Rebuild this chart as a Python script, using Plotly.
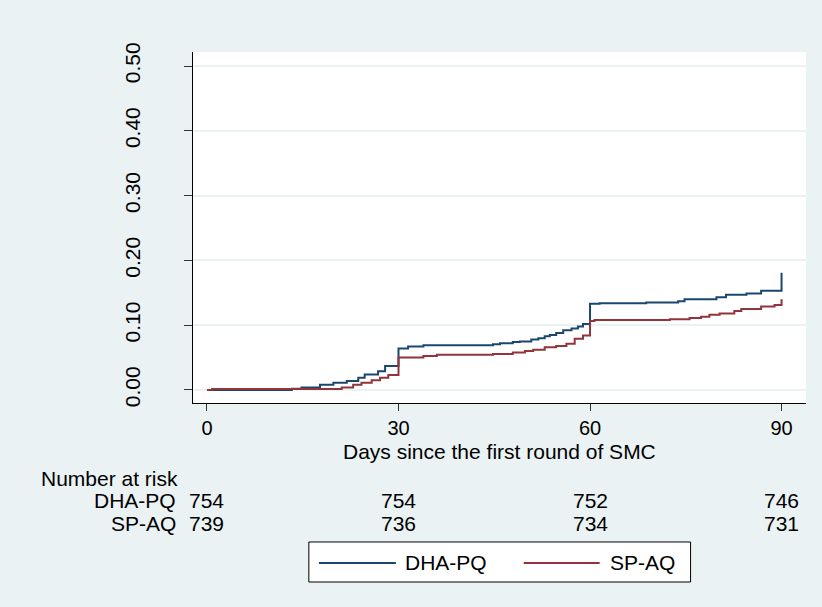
import plotly.graph_objects as go

# Kaplan-Meier style cumulative incidence (step functions)
dha_t = [0, 13.3, 14.8, 17.7, 19.8, 21.9, 23.7, 24.7, 26.8, 27.9, 30, 31.5, 33.9, 44.8, 45.9,
         47.9, 49, 50.8, 51.9, 52.9, 53.7, 54.7, 55.8, 57.1, 58.1, 58.9, 60, 61.5, 68.8, 73.8,
         74.8, 79.8, 81.3, 84.5, 86.8, 90]
dha_v = [0, 0.002, 0.004, 0.008, 0.011, 0.014, 0.019, 0.024, 0.029, 0.037, 0.064, 0.067, 0.069,
         0.0705, 0.072, 0.074, 0.075, 0.078, 0.080, 0.083, 0.085, 0.088, 0.092, 0.095, 0.098,
         0.102, 0.133, 0.134, 0.135, 0.137, 0.140, 0.143, 0.147, 0.149, 0.153, 0.181]

sp_t = [0, 0.8, 21.1, 22.9, 24.2, 25.8, 27.1, 28.4, 30, 33.9, 36, 44.8, 47.9, 49.8, 51.1, 52.9,
        54.7, 56.3, 57.6, 58.9, 60, 60.7, 72.5, 75.6, 77.4, 78.7, 80.3, 82.6, 83.7, 86.8, 88.9, 90]
sp_v = [0, 0.0015, 0.004, 0.008, 0.011, 0.015, 0.019, 0.023, 0.050, 0.0525, 0.0545, 0.0556,
        0.058, 0.060, 0.062, 0.066, 0.068, 0.0715, 0.079, 0.084, 0.1065, 0.108, 0.109, 0.111,
        0.113, 0.116, 0.118, 0.122, 0.125, 0.129, 0.131, 0.140]

risk_days = [0, 30, 60, 90]
risk_dha = [754, 754, 752, 746]
risk_sp = [739, 736, 734, 731]

y_ticks = [0, 0.1, 0.2, 0.3, 0.4, 0.5]
y_tick_text = ["0.00", "0.10", "0.20", "0.30", "0.40", "0.50"]
x_ticks = [0, 30, 60, 90]

NAVY = "#1A476F"
MAROON = "#90353B"
BG = "#EAF2F3"
FONT = "Liberation Sans, Arial, sans-serif"
FS = 21

fig = go.Figure()
fig.add_trace(go.Scatter(x=dha_t, y=dha_v, mode="lines", line=dict(shape="hv", color=NAVY, width=2),
                         name="DHA-PQ"))
fig.add_trace(go.Scatter(x=sp_t, y=sp_v, mode="lines", line=dict(shape="hv", color=MAROON, width=2),
                         name="SP-AQ"))

tf = dict(size=FS, color="black", family=FONT)
annotations = []
annotations.append(dict(text="Days since the first round of SMC", xref="paper", yref="paper",
                        x=0.5, y=-0.139, xanchor="center", yanchor="middle", showarrow=False, font=tf))
annotations.append(dict(text="Number at risk", xref="paper", yref="paper", x=-0.251, y=-0.2137,
                        xanchor="left", yanchor="middle", showarrow=False, font=tf))
for label, yy, vals in [("DHA-PQ", -0.2764, risk_dha), ("SP-AQ", -0.342, risk_sp)]:
    annotations.append(dict(text=label, xref="paper", yref="paper", x=-0.0245, y=yy,
                            xanchor="right", yanchor="middle", showarrow=False, font=tf))
    for d, v in zip(risk_days, vals):
        annotations.append(dict(text=str(v), xref="x", yref="paper", x=d, y=yy,
                                xanchor="center", yanchor="middle", showarrow=False, font=tf))

# custom legend (box, line samples, labels)
shapes = [dict(type="rect", xref="paper", yref="paper", x0=0.189, x1=0.8117, y0=-0.510, y1=-0.396,
               fillcolor="white", line=dict(color="black", width=1), layer="above")]
leg_y = -0.4558
for name, color, lx0, lx1, tx in [("DHA-PQ", NAVY, 0.2054, 0.3309, 0.3423),
                                  ("SP-AQ", MAROON, 0.5395, 0.6634, 0.6764)]:
    shapes.append(dict(type="line", xref="paper", yref="paper", x0=lx0, x1=lx1, y0=leg_y, y1=leg_y,
                       line=dict(color=color, width=2), layer="above"))
    annotations.append(dict(text=name, xref="paper", yref="paper", x=tx, y=leg_y,
                            xanchor="left", yanchor="middle", showarrow=False, font=tf))

fig.update_layout(
    width=822, height=607,
    margin=dict(l=193, r=15.5, t=52, b=204),
    paper_bgcolor=BG, plot_bgcolor="white",
    font=dict(family=FONT, size=FS, color="black"),
    showlegend=False,
    annotations=annotations,
    shapes=shapes,
    xaxis=dict(range=[-2.19, 93.83], tickvals=x_ticks, ticks="outside", ticklen=7,
               tickcolor="#333333", showline=True, linecolor="black", linewidth=1,
               showgrid=False, zeroline=False, tickfont=dict(size=20)),
    yaxis=dict(range=[-0.0201, 0.5216], tickvals=y_ticks, ticktext=y_tick_text, ticks="outside",
               ticklen=8, tickcolor="#333333", showline=True, linecolor="black", linewidth=1,
               showgrid=True, gridcolor=BG, gridwidth=2, zeroline=False, tickangle=-90,
               tickfont=dict(size=FS), ticklabelstandoff=36),
)

fig.write_html("out.html", config={"displayModeBar": False},
               post_script="document.body.style.margin='0px';")
